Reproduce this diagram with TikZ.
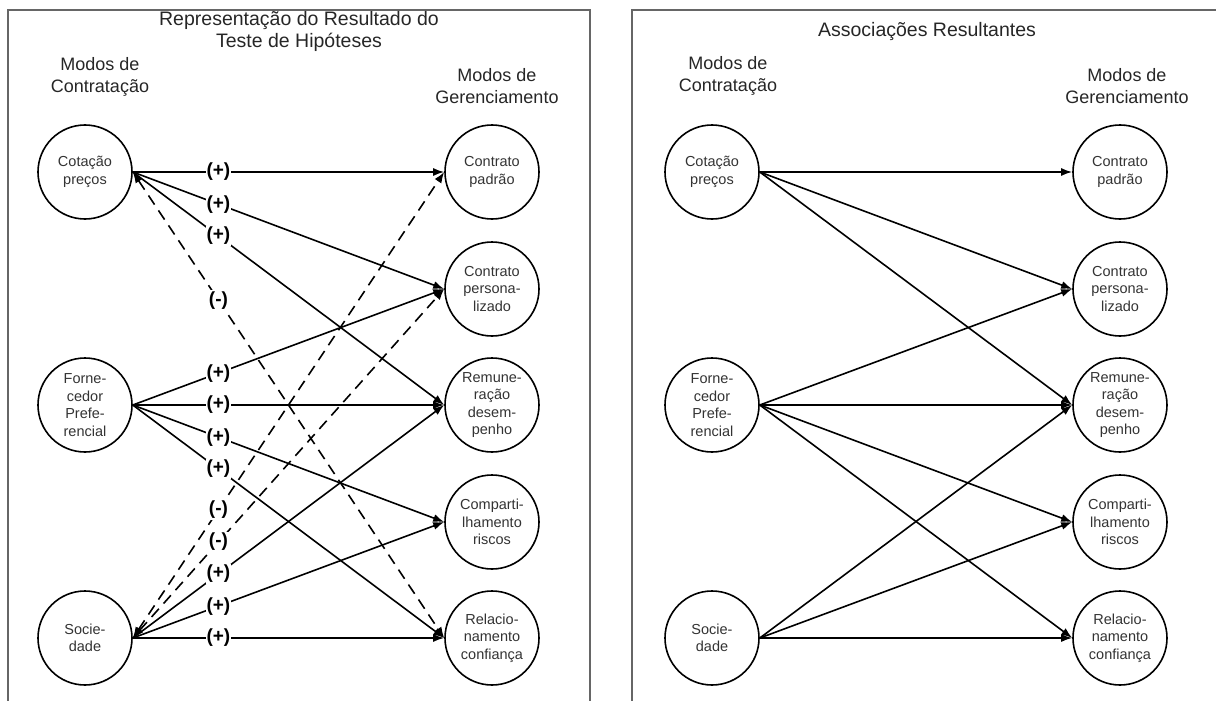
\documentclass[tikz,border=0pt]{standalone}
\usepackage{fontspec}
\setmainfont{Liberation Sans}
\usetikzlibrary{arrows.meta}
\tikzstyle{every path}=[line width=1.6pt]
\tikzstyle{frame}=[line width=1.6pt, draw=black!60]
\tikzstyle{mode}=[circle, draw, line width=1.6pt, minimum size=94pt, inner sep=0pt, align=center, text=black!80, font=\fontsize{14.5}{17.5}\selectfont]
\tikzstyle{heading}=[align=center, inner sep=0pt, text=black!85, font=\fontsize{18}{22}\selectfont]
\tikzstyle{caption}=[align=center, inner sep=0pt, text=black!85, font=\fontsize{19.5}{22}\selectfont]
\tikzstyle{assoc}=[-{Latex[length=11pt,width=8pt]}]
\tikzstyle{negassoc}=[{Latex[length=11pt,width=8pt]}-{Latex[length=11pt,width=8pt]}, dash pattern=on 11pt off 7pt]
\tikzstyle{sign}=[fill=white, inner sep=1pt, font=\fontsize{19}{19}\bfseries\selectfont]

\begin{document}
\begin{tikzpicture}[x=1pt, y=-1pt]
            \useasboundingbox (0, 0) rectangle (1216, 701);
            % the two frames, open at the bottom
            \draw[frame] (8, 701) -- (8, 10) -- (590, 10) -- (590, 701);
            \draw[frame] (632, 701) -- (632, 10) -- (1216, 10);

            % teste de hipoteses
            \node[caption] (ttitle) at (299, 31) {Representação do Resultado do\\Teste de Hipóteses};
            \node[heading] (tcontratacao) at (100, 77) {Modos de\\Contratação};
            \node[heading] (tgerenciamento) at (497, 86) {Modos de\\Gerenciamento};

            \node[mode] (tcotacao) at (85, 172) {Cotação\\preços};
            \node[mode] (tfornecedor) at (85, 405) {Forne-\\cedor\\Prefe-\\rencial};
            \node[mode] (tsociedade) at (85, 638) {Socie-\\dade};

            \node[mode] (tpadrao) at (492, 172) {Contrato\\padrão};
            \node[mode] (tpersonalizado) at (492, 289) {Contrato\\persona-\\lizado};
            \node[mode] (tremuneracao) at (492, 405) {Remune-\\ração\\desem-\\penho};
            \node[mode] (triscos) at (492, 522) {Comparti-\\lhamento\\riscos};
            \node[mode] (tconfianca) at (492, 638) {Relacio-\\namento\\confiança};

            \draw[assoc] (tcotacao.east) -- (tpadrao.west)
                node[sign, pos=0.275]{(+)};
            \draw[assoc] (tcotacao.east) -- (tpersonalizado.west)
                node[sign, pos=0.275]{(+)};
            \draw[assoc] (tcotacao.east) -- (tremuneracao.west)
                node[sign, pos=0.275]{(+)};
            \draw[negassoc] (tcotacao.east) -- (tconfianca.west)
                node[sign, pos=0.275]{(-)};

            \draw[assoc] (tfornecedor.east) -- (tpersonalizado.west)
                node[sign, pos=0.275]{(+)};
            \draw[assoc] (tfornecedor.east) -- (tremuneracao.west)
                node[sign, pos=0.275]{(+)};
            \draw[assoc] (tfornecedor.east) -- (triscos.west)
                node[sign, pos=0.275]{(+)};
            \draw[assoc] (tfornecedor.east) -- (tconfianca.west)
                node[sign, pos=0.275]{(+)};

            \draw[negassoc] (tsociedade.east) -- (tpadrao.west)
                node[sign, pos=0.275]{(-)};
            \draw[negassoc] (tsociedade.east) -- (tpersonalizado.west)
                node[sign, pos=0.275]{(-)};
            \draw[assoc] (tsociedade.east) -- (tremuneracao.west)
                node[sign, pos=0.275]{(+)};
            \draw[assoc] (tsociedade.east) -- (triscos.west)
                node[sign, pos=0.275]{(+)};
            \draw[assoc] (tsociedade.east) -- (tconfianca.west)
                node[sign, pos=0.275]{(+)};

            % associacoes resultantes
            \node[caption] (atitle) at (927, 32) {Associações Resultantes};
            \node[heading] (acontratacao) at (728, 76) {Modos de\\Contratação};
            \node[heading] (agerenciamento) at (1127, 86) {Modos de\\Gerenciamento};

            \node[mode] (acotacao) at (712, 172) {Cotação\\preços};
            \node[mode] (afornecedor) at (712, 405) {Forne-\\cedor\\Prefe-\\rencial};
            \node[mode] (asociedade) at (712, 638) {Socie-\\dade};

            \node[mode] (apadrao) at (1120, 172) {Contrato\\padrão};
            \node[mode] (apersonalizado) at (1120, 289) {Contrato\\persona-\\lizado};
            \node[mode] (aremuneracao) at (1120, 405) {Remune-\\ração\\desem-\\penho};
            \node[mode] (ariscos) at (1120, 522) {Comparti-\\lhamento\\riscos};
            \node[mode] (aconfianca) at (1120, 638) {Relacio-\\namento\\confiança};

            \draw[assoc] (acotacao.east) -- (apadrao.west);
            \draw[assoc] (acotacao.east) -- (apersonalizado.west);
            \draw[assoc] (acotacao.east) -- (aremuneracao.west);
            \draw[assoc] (afornecedor.east) -- (apersonalizado.west);
            \draw[assoc] (afornecedor.east) -- (aremuneracao.west);
            \draw[assoc] (afornecedor.east) -- (ariscos.west);
            \draw[assoc] (afornecedor.east) -- (aconfianca.west);
            \draw[assoc] (asociedade.east) -- (aremuneracao.west);
            \draw[assoc] (asociedade.east) -- (ariscos.west);
            \draw[assoc] (asociedade.east) -- (aconfianca.west);
\end{tikzpicture}
\end{document}
